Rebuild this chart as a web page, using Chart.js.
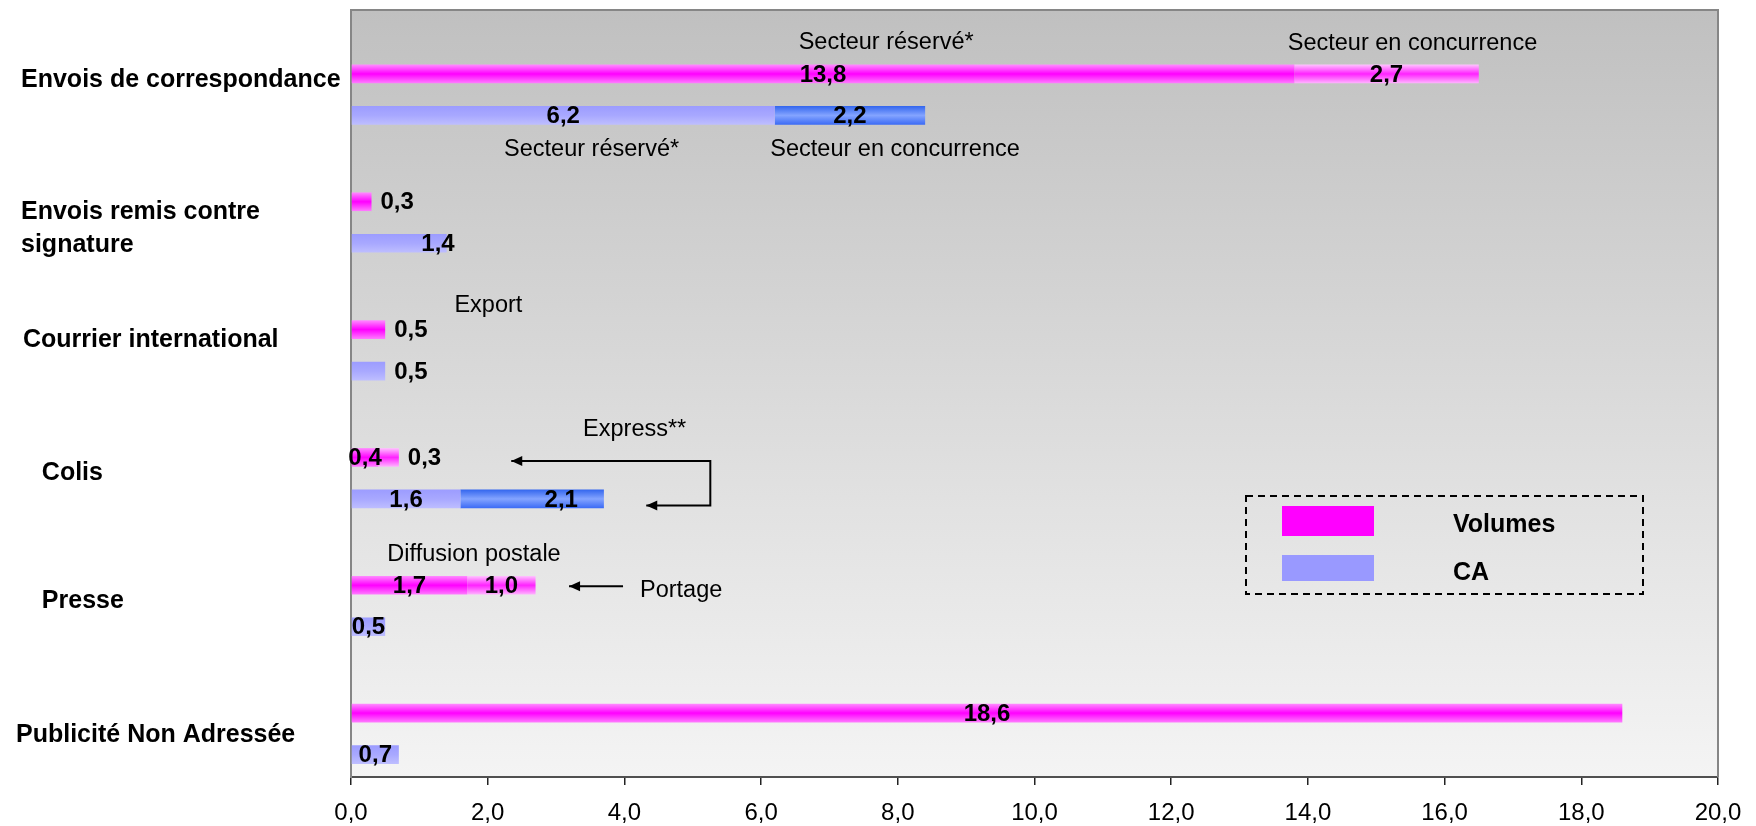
<!DOCTYPE html>
<html>
<head>
<meta charset="utf-8">
<script src="https://cdn.jsdelivr.net/npm/chart.js@4.4.1/dist/chart.umd.min.js"></script>
<style>
  html, body { margin: 0; padding: 0; background: #ffffff; }
  canvas { display: block; }
</style>
</head>
<body>
<canvas id="chart" width="1756" height="826"></canvas>
<script>
// ---- Data -------------------------------------------------------------
const categories = [
  'Envois de correspondance',
  ['Envois remis contre', 'signature'],
  'Courrier international',
  'Colis',
  'Presse',
  'Publicité Non Adressée'
];
// Volumes: main segment (secteur réservé / diffusion postale...) and second segment
const volumesMain   = [13.8, 0.3, 0.5, 0.4, 1.7, 18.6];
const volumesSecond = [2.7, null, null, 0.3, 1.0, null];
// Chiffre d'affaires (CA)
const caMain   = [6.2, 1.4, 0.5, 1.6, 0.5, 0.7];
const caSecond = [2.2, null, null, 2.1, null, null];
const xTickLabels = ['0,0', '2,0', '4,0', '6,0', '8,0', '10,0', '12,0', '14,0', '16,0', '18,0', '20,0'];

// ---- Style ------------------------------------------------------------
const FONT = "'Liberation Sans', Arial, Helvetica, sans-serif";
const labelIndent = ['\u2009', '\u2009', ' ', '   \u2009', '   \u2009', ''];  // prefix before category names
const labelShift  = [6, 27, 11, 16, 16, 22];  // vertical nudge of category names (px)

const fmt = v => v.toFixed(1).replace('.', ',');

// Annotations: x in axis units, y relative to a bar row
const notes = [
  { text: 'Secteur réservé*',       at: 7.83,  row: ['vol', 0], dy: -31 },
  { text: 'Secteur en concurrence', at: 15.53, row: ['vol', 0], dy: -30 },
  { text: 'Secteur réservé*',       at: 3.52,  row: ['ca', 0],  dy: 34 },
  { text: 'Secteur en concurrence', at: 7.96,  row: ['ca', 0],  dy: 34 },
  { text: 'Export',                 at: 2.01,  row: ['vol', 2], dy: -24 },
  { text: 'Express**',              at: 4.15,  row: ['vol', 3], dy: -27.5 },
  { text: 'Diffusion postale',      at: 1.80,  row: ['vol', 4], dy: -30.5 },
  { text: 'Portage',                at: 4.83,  row: ['vol', 4], dy: 5 }
];
const arrows = [
  { pts: [[2.345, 'vol', 3, 3.5], [5.257, 'vol', 3, 3.5], [5.257, 'ca', 3, 6.5], [4.32, 'ca', 3, 6.5]], heads: [true, true] },
  { pts: [[3.98, 'vol', 4, 1], [3.19, 'vol', 4, 1]], heads: [false, true] }
];

const ROW_DATASET = { vol: 1, ca: 3 };

function rowY(chart, key, idx) {
  return chart.getDatasetMeta(ROW_DATASET[key]).data[idx].y;
}

// Plot background + frame, and vertical nudge of category names
const framePlugin = {
  id: 'frame',
  beforeDraw(chart) {
    const { ctx, chartArea: a } = chart;
    ctx.save();
    ctx.fillStyle = '#ffffff';
    ctx.fillRect(0, 0, chart.width, chart.height);
    const g = ctx.createLinearGradient(0, a.top, 0, a.bottom);
    g.addColorStop(0, '#c0c0c0');
    g.addColorStop(1, '#f4f4f4');
    ctx.fillStyle = g;
    ctx.fillRect(a.left, a.top, a.right - a.left, a.bottom - a.top);
    ctx.restore();

    const items = chart.scales.y.getLabelItems(a);
    if (!items._shifted) {
      items.forEach((it, i) => { it.options.translation[1] += labelShift[i] || 0; });
      items._shifted = true;
    }
  },
  afterDraw(chart) {
    const { ctx, chartArea: a } = chart;
    ctx.save();
    ctx.strokeStyle = '#868686';
    ctx.lineWidth = 2;
    ctx.beginPath();
    ctx.moveTo(a.left, a.top);
    ctx.lineTo(a.right, a.top);
    ctx.lineTo(a.right, a.bottom);
    ctx.stroke();
    ctx.restore();
  }
};

// Vertical shading of each bar
const shadePlugin = {
  id: 'shade',
  beforeDatasetsDraw(chart) {
    const ctx = chart.ctx;
    chart.data.datasets.forEach((ds, di) => {
      if (!ds.shade) return;
      chart.getDatasetMeta(di).data.forEach(el => {
        if (!isFinite(el.x) || !isFinite(el.y)) return;
        const top = el.y - el.height / 2;
        const g = ctx.createLinearGradient(0, top, 0, top + el.height);
        ds.shade.forEach(([o, c]) => g.addColorStop(o, c));
        el.options = Object.assign({}, el.options, { backgroundColor: g });
      });
    });
  }
};

// Value labels, annotations and arrows
const labelPlugin = {
  id: 'labels',
  afterDatasetsDraw(chart) {
    const { ctx } = chart;
    const xs = chart.scales.x;
    ctx.save();
    ctx.fillStyle = '#000';
    ctx.textBaseline = 'middle';

    ctx.font = `bold 24px ${FONT}`;
    chart.data.datasets.forEach((ds, di) => {
      if (!ds.placement) return;
      chart.getDatasetMeta(di).data.forEach((el, i) => {
        const v = ds.data[i];
        if (v === null || v === undefined) return;
        const mode = ds.placement[i] || 'center';
        let x = (el.x + el.base) / 2, align = 'center';
        if (mode === 'out') { x = el.x + 9; align = 'left'; }
        else if (mode === 'endOver') { x = el.x + 8; align = 'right'; }
        else if (mode === 'endIn') { x = el.x - 26; align = 'right'; }
        ctx.textAlign = align;
        ctx.fillText(fmt(v), x, el.y + 1);
      });
    });

    ctx.font = `23.5px ${FONT}`;
    ctx.textAlign = 'center';
    notes.forEach(n => {
      ctx.fillText(n.text, xs.getPixelForValue(n.at), rowY(chart, n.row[0], n.row[1]) + n.dy);
    });

    ctx.strokeStyle = '#000';
    ctx.lineWidth = 2;
    const head = (x0, y0, x1, y1) => {
      const ang = Math.atan2(y1 - y0, x1 - x0);
      const L = 11, W = 5;
      ctx.beginPath();
      ctx.moveTo(x1, y1);
      ctx.lineTo(x1 - L * Math.cos(ang) + W * Math.sin(ang), y1 - L * Math.sin(ang) - W * Math.cos(ang));
      ctx.lineTo(x1 - L * Math.cos(ang) - W * Math.sin(ang), y1 - L * Math.sin(ang) + W * Math.cos(ang));
      ctx.closePath();
      ctx.fill();
    };
    arrows.forEach(a => {
      const p = a.pts.map(([v, key, idx, dy]) => [xs.getPixelForValue(v), rowY(chart, key, idx) + dy]);
      ctx.beginPath();
      p.forEach(([x, y], k) => (k ? ctx.lineTo(x, y) : ctx.moveTo(x, y)));
      ctx.stroke();
      if (a.heads[0]) head(p[1][0], p[1][1], p[0][0], p[0][1]);
      const n = p.length;
      if (a.heads[1]) head(p[n - 2][0], p[n - 2][1], p[n - 1][0], p[n - 1][1]);
    });
    ctx.restore();
  },
  afterDraw(chart) {
    // Legend box
    const { ctx } = chart;
    ctx.save();
    ctx.strokeStyle = '#000';
    ctx.lineWidth = 2;
    ctx.setLineDash([7, 5]);
    ctx.strokeRect(1246, 496, 397, 98);
    ctx.setLineDash([]);
    ctx.fillStyle = '#ff00ff';
    ctx.fillRect(1282, 506, 92, 30);
    ctx.fillStyle = '#9999ff';
    ctx.fillRect(1282, 555, 92, 26);
    ctx.fillStyle = '#000';
    ctx.font = `bold 25px ${FONT}`;
    ctx.textAlign = 'left';
    ctx.textBaseline = 'middle';
    ctx.fillText('Volumes', 1453, 525);
    ctx.fillText('CA', 1453, 573);
    ctx.restore();
  }
};

new Chart(document.getElementById('chart'), {
  type: 'bar',
  data: {
    labels: categories,
    datasets: [
      // empty row above each pair of bars
      { label: '', data: categories.map(() => 0), stack: 'spacer' },
      {
        label: 'Volumes', data: volumesMain, stack: 'vol', backgroundColor: '#ff00ff',
        shade: [[0, '#ff8cff'], [0.5, '#ff00ff'], [1, '#ff7cff']],
        placement: ['center', 'out', 'out', 'center', 'center', 'center']
      },
      {
        label: 'Volumes (2)', data: volumesSecond, stack: 'vol', backgroundColor: '#ff66ff',
        shade: [[0, '#ffc4ff'], [0.5, '#ff22ff'], [1, '#ffb4ff']],
        placement: ['center', null, null, 'out', 'center', null]
      },
      {
        label: 'CA', data: caMain, stack: 'ca', backgroundColor: '#9999ff',
        shade: [[0, '#9c9cff'], [0.5, '#a8a8ff'], [1, '#bebeff']],
        placement: ['center', 'endOver', 'out', 'center', 'center', 'center']
      },
      {
        label: 'CA (2)', data: caSecond, stack: 'ca', backgroundColor: '#3366ff',
        shade: [[0, '#3366ee'], [0.5, '#84a4ff'], [1, '#3a6af5']],
        placement: ['center', null, null, 'endIn', null, null]
      }
    ]
  },
  options: {
    indexAxis: 'y',
    responsive: false,
    animation: false,
    devicePixelRatio: 1,
    layout: { padding: { left: 16, right: 38, top: 10, bottom: 0 } },
    datasets: { bar: { categoryPercentage: 0.974, barPercentage: 0.45, borderWidth: 0 } },
    plugins: { legend: { display: false }, tooltip: { enabled: false } },
    scales: {
      x: {
        type: 'linear', min: 0, max: 20, stacked: true,
        ticks: {
          stepSize: 2, color: '#000', padding: 14,
          font: { family: FONT, size: 24 },
          callback: (v, i) => xTickLabels[i]
        },
        grid: { drawOnChartArea: false, drawTicks: true, tickLength: 8, color: '#222', lineWidth: 1.5 },
        border: { display: true, color: '#505050', width: 2 },
        afterFit: s => { s.height = 49; s.paddingLeft = 0; s.paddingRight = 0; }
      },
      y: {
        grid: { display: false },
        border: { display: true, color: '#868686', width: 2 },
        ticks: {
          color: '#000', padding: 0, crossAlign: 'far',
          font: { family: FONT, size: 25, weight: 'bold', lineHeight: 1.34 },
          callback: function (v, i) {
            const lab = this.getLabelForValue(v);
            const pre = labelIndent[i] || '';
            return Array.isArray(lab) ? lab.map(l => pre + l) : pre + lab;
          }
        },
        afterFit: s => { s.width = 335; s.paddingTop = 0; s.paddingBottom = 0; }
      }
    }
  },
  plugins: [framePlugin, shadePlugin, labelPlugin]
});
</script>
</body>
</html>
